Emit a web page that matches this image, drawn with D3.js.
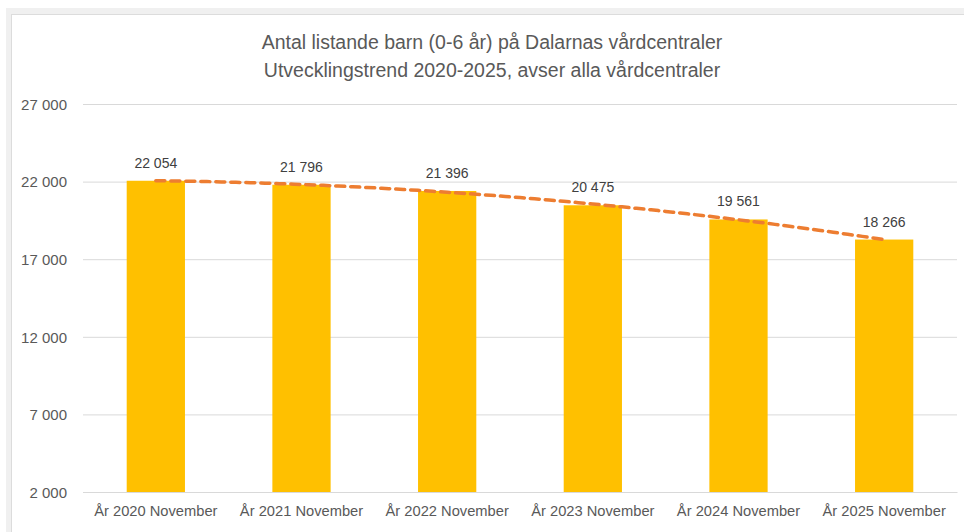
<!DOCTYPE html>
<html lang="sv">
<head>
<meta charset="UTF-8">
<title>Antal listande barn</title>
<style>
    body { margin: 0; background: #fff; font-family: 'Liberation Sans', Arial, sans-serif; }
    .axisY text { fill: #595959; font-size: 15px; }
    .axisX text { fill: #595959; font-size: 14.7px; }
    .title text { fill: #595959; font-size: 19.5px; }
    .barText { fill: #404040; font-size: 14px; }
</style>
</head>
<body>
<div id="chart"></div>
<script src="https://cdnjs.cloudflare.com/ajax/libs/d3/7.8.5/d3.min.js"></script>
<script>
    // data
    const categories = ['År 2020 November', 'År 2021 November', 'År 2022 November',
        'År 2023 November', 'År 2024 November', 'År 2025 November'];
    const values = [22054, 21796, 21396, 20475, 19561, 18266];
    const yTicks = [2000, 7000, 12000, 17000, 22000, 27000];
    const titleLines = ['Antal listande barn (0-6 år) på Dalarnas vårdcentraler',
        'Utvecklingstrend 2020-2025, avser alla vårdcentraler'];

    const W = 964, H = 532;
    const plot = { left: 83, right: 957, top: 104, bottom: 492 };

    const fmt = d3.formatLocale({ decimal: ',', thousands: ' ', grouping: [3], currency: ['', ' kr'] }).format(',d');

    const svg = d3.select('#chart').append('svg')
        .attr('width', W).attr('height', H);

    // ram runt diagrammet (skärmklippets kant)
    svg.append('rect').attr('x', 6).attr('y', 8).attr('width', W).attr('height', 6).attr('fill', '#f0f0f0');
    svg.append('rect').attr('x', 6).attr('y', 8).attr('width', 5).attr('height', H).attr('fill', '#f0f0f0');
    svg.append('line').attr('x1', 11).attr('x2', W).attr('y1', 14.5).attr('y2', 14.5).attr('stroke', '#dcdcdc');
    svg.append('line').attr('x1', 11.5).attr('x2', 11.5).attr('y1', 14).attr('y2', H).attr('stroke', '#dcdcdc');

    // titel
    svg.append('g').attr('class', 'title')
        .selectAll('text').data(titleLines).enter().append('text')
        .attr('x', 492).attr('y', (d, i) => 49 + i * 28)
        .attr('text-anchor', 'middle')
        .text(d => d);

    const x = d3.scaleBand().domain(categories).range([plot.left, plot.right]).paddingInner(0.6).paddingOuter(0.3);
    const y = d3.scaleLinear().domain([2000, 27000]).range([plot.bottom, plot.top]);

    // stödlinjer och y-axel
    const axisY = svg.append('g').attr('class', 'axisY')
        .attr('transform', 'translate(' + plot.left + ',0)')
        .call(d3.axisLeft(y).tickValues(yTicks).tickFormat(fmt)
            .tickSize(-(plot.right - plot.left)).tickPadding(16));
    axisY.select('.domain').remove();
    axisY.selectAll('line').attr('stroke', '#d9d9d9');
    axisY.selectAll('text').attr('dy', '0.35em');

    // staplar
    svg.append('g').selectAll('rect').data(values).enter().append('rect')
        .attr('x', (d, i) => x(categories[i]))
        .attr('y', d => y(d))
        .attr('width', x.bandwidth())
        .attr('height', d => y(2000) - y(d))
        .attr('fill', '#ffc000');

    // x-axel
    const axisX = svg.append('g').attr('class', 'axisX')
        .attr('transform', 'translate(0,' + plot.bottom + ')')
        .call(d3.axisBottom(x).tickSize(0).tickPadding(14));
    axisX.select('.domain').attr('stroke', '#d9d9d9');

    // trendlinje (polynom, grad 2, minsta kvadrat)
    const n = values.length;
    const xs = d3.range(1, n + 1);
    const S = k => d3.sum(xs, v => Math.pow(v, k));
    const T = k => d3.sum(xs, (v, i) => Math.pow(v, k) * values[i]);
    const A = [[n, S(1), S(2)], [S(1), S(2), S(3)], [S(2), S(3), S(4)]];
    const B = [T(0), T(1), T(2)];
    function solve(M, b) {
        const m = M.map((r, i) => r.concat(b[i]));
        for (let c = 0; c < 3; c++) {
            for (let r = c + 1; r < 3; r++) {
                const f = m[r][c] / m[c][c];
                for (let k = c; k < 4; k++) m[r][k] -= f * m[c][k];
            }
        }
        const s = [0, 0, 0];
        for (let r = 2; r >= 0; r--) {
            let v = m[r][3];
            for (let k = r + 1; k < 3; k++) v -= m[r][k] * s[k];
            s[r] = v / m[r][r];
        }
        return s;
    }
    const coef = solve(A, B);
    const xIdx = d3.scaleLinear().domain([1, n])
        .range([x(categories[0]) + x.bandwidth() / 2, x(categories[n - 1]) + x.bandwidth() / 2]);
    const trendPts = d3.range(1, n + 0.001, 0.05).map(t => [xIdx(t), y(coef[0] + coef[1] * t + coef[2] * t * t)]);
    svg.append('path')
        .attr('d', d3.line()(trendPts))
        .attr('fill', 'none')
        .attr('stroke', '#ed7d31')
        .attr('stroke-width', 3.5)
        .attr('stroke-dasharray', '9,6')
        .attr('stroke-linecap', 'round');

    // värdeetiketter
    svg.append('g').selectAll('text').data(values).enter().append('text')
        .attr('class', 'barText')
        .attr('x', (d, i) => x(categories[i]) + x.bandwidth() / 2)
        .attr('y', d => y(d) - 13)
        .attr('text-anchor', 'middle')
        .text(d => fmt(d));
</script>
</body>
</html>
